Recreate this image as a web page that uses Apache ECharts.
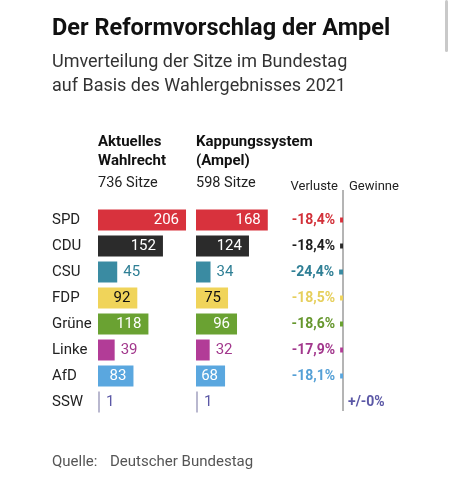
<!DOCTYPE html>
<html><head><meta charset="utf-8">
<script src="https://cdn.jsdelivr.net/npm/echarts@6/dist/echarts.min.js"></script>
<style>html,body{margin:0;padding:0;background:#fff}#c{width:452px;height:500px}</style>
</head><body><div id="c"></div>
<script>
const parties = ['SPD','CDU','CSU','FDP','Grüne','Linke','AfD','SSW'];
const seatsCurrent = [206,152,45,92,118,39,83,1];
const seatsAmpel = [168,124,34,75,96,32,68,1];
const changePct = [-18.4,-18.4,-24.4,-18.5,-18.6,-17.9,-18.1,0];
const barColors = ['#d8323d','#2b2b2b','#3a8ba2','#f0d45a','#6aa232','#b23c97','#5aa7df','#b9b8cf'];
const textColors = ['#d23038','#1e1e1e','#2f7f95','#e6cf5c','#66972e','#a2378c','#55a0d6','#5b58a6'];
const labelInside = [true,true,false,true,true,false,true,false];
const labelInsideColor = ['#fff','#fff',null,'#111','#fff',null,'#fff',null];

const FONT = 'Roboto';

function seatData(arr){
  return arr.map((v,i)=>({
    value:v,
    itemStyle:{color:barColors[i]},
    label:labelInside[i]
      ? {position:'insideRight',color:labelInsideColor[i],distance:7}
      : {position:'right',color:textColors[i],distance:6}
  }));
}
function fmtPct(v){
  if(v===0) return '+/-0%';
  return (v>0?'+':'') + String(v).replace('.',',') + '%';
}
const pctData = changePct.map((v,i)=>({
  value:v,
  itemStyle:{color:i===7?textColors[i]:barColors[i]},
  label:{position:v<0?'left':'right',color:textColors[i],distance:5,formatter:fmtPct(v)}
}));

function T(text,pos,size,weight,color,lh){
  return Object.assign({text:text,padding:0,itemGap:0,
    textStyle:{fontFamily:FONT,fontSize:size,fontWeight:weight,color:color,lineHeight:lh}},pos);
}

const rowTop = 207, rowH = 208;
const chart = echarts.init(document.getElementById('c'),null,{renderer:'canvas'});
const cat = {type:'category',data:parties,inverse:true,axisLine:{show:false},axisTick:{show:false}};
chart.setOption({
  animation:false,
  textStyle:{fontFamily:FONT},
  title:[
    T('Der Reformvorschlag der Ampel',{left:52,top:16},23.5,'bold','#111',26),
    T('Umverteilung der Sitze im Bundestag\nauf Basis des Wahlergebnisses 2021',{left:52,top:50},18,'normal','#333',24),
    T('Aktuelles\nWahlrecht',{left:98,top:133},15,'bold','#111',19),
    T('736 Sitze',{left:98,top:174},14.5,'normal','#222',18),
    T('Kappungssystem\n(Ampel)',{left:196,top:133},15,'bold','#111',19),
    T('598 Sitze',{left:196,top:174},14.5,'normal','#222',18),
    T('Verluste',{right:452-338,top:179},13,'normal','#222',16),
    T('Gewinne',{left:349,top:179},13,'normal','#222',16),
    T('Quelle:',{left:52,top:453},15,'normal','#555',18),
    T('Deutscher Bundestag',{left:110,top:453},15,'normal','#555',18)
  ],
  graphic:[
    {type:'line',shape:{x1:343,y1:190,x2:343,y2:411},style:{stroke:'#6a6a6a',lineWidth:1}},
    {type:'rect',shape:{x:445,y:0,width:3,height:52,r:1.5},style:{fill:'#c9c9c9'}}
  ],
  grid:[
    {left:98,top:rowTop,width:94,height:rowH},
    {left:196,top:rowTop,width:94,height:rowH},
    {left:263,top:rowTop,width:160,height:rowH}
  ],
  xAxis:[
    {gridIndex:0,type:'value',min:0,max:220,show:false},
    {gridIndex:1,type:'value',min:0,max:220,show:false},
    {gridIndex:2,type:'value',min:-500,max:500,show:false}
  ],
  yAxis:[
    Object.assign({gridIndex:0,axisLabel:{align:'left',margin:46,fontFamily:FONT,fontSize:15,color:'#222'}},cat),
    Object.assign({gridIndex:1,axisLabel:{show:false}},cat),
    Object.assign({gridIndex:2,axisLabel:{show:false}},cat)
  ],
  series:[
    {type:'bar',xAxisIndex:0,yAxisIndex:0,data:seatData(seatsCurrent),barWidth:21,barMinHeight:2,
     label:{show:true,fontFamily:FONT,fontSize:15}},
    {type:'bar',xAxisIndex:1,yAxisIndex:1,data:seatData(seatsAmpel),barWidth:21,barMinHeight:2,
     label:{show:true,fontFamily:FONT,fontSize:15}},
    {type:'bar',xAxisIndex:2,yAxisIndex:2,data:pctData,barWidth:5,
     label:{show:true,fontFamily:FONT,fontSize:14,fontWeight:'bold'}}
  ]
});
</script></body></html>
